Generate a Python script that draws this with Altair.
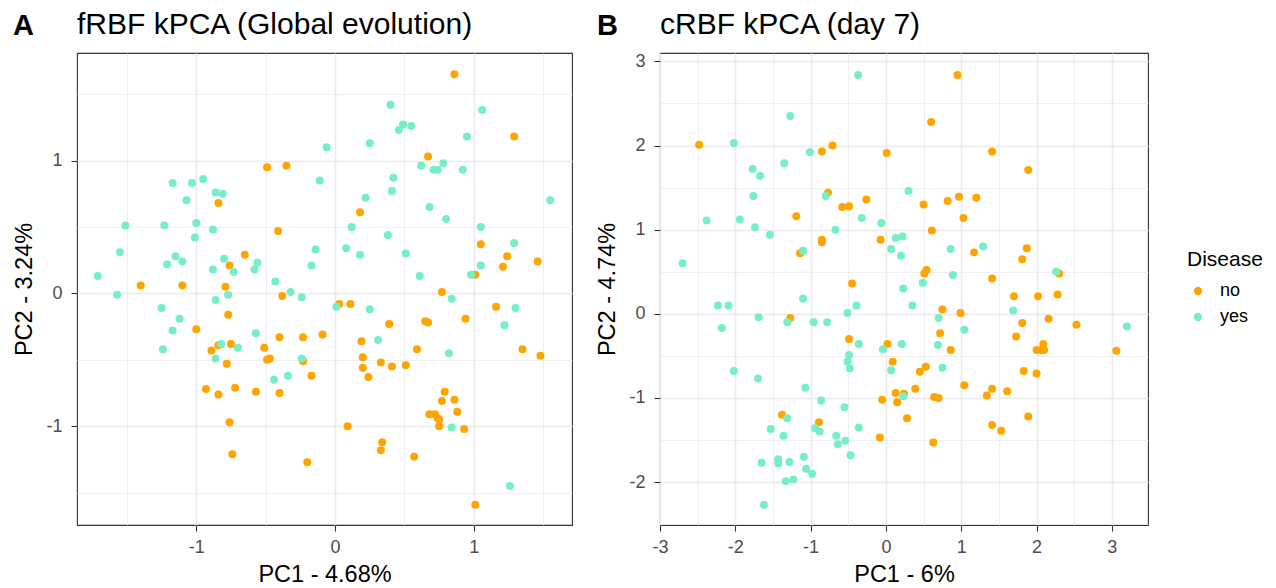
import altair as alt
import pandas as pd

FONT = "Liberation Sans"

# ---------------- Panel A: fRBF kPCA (Global evolution) ----------------
a_no_x = [-0.49, -0.35, -0.84, -0.41, -0.65, -0.76, -1.40, -1.10, -0.79, 0.86, 1.29, 0.67, 0.18, 1.05,
          1.24, 1.21, 1.46, 1.01, -0.38, -0.77, -1.00, -0.40, -0.23, -0.09, -0.75, -0.84, -0.89, -0.51,
          -0.49, -0.47, -0.23, -0.78, -0.17, -0.93, -0.84, -0.72, -0.57, -0.40, -0.76, -0.74, -0.20, 0.77,
          0.03, 0.11, 1.16, 0.94, 0.39, 0.65, 0.67, 0.19, 0.59, 1.35, 1.48, 0.20, 0.33, 0.41, 0.51, 0.20,
          0.24, 0.79, 0.77, 0.86, 0.88, 0.68, 0.72, 0.74, 0.75, 0.75, 0.93, 0.09, 0.34, 0.33, 0.57, 1.01]
a_no_y = [0.95, 0.96, 0.68, 0.47, 0.29, 0.21, 0.06, 0.06, 0.05, 1.65, 1.18, 1.03, 0.61, 0.37,
          0.28, 0.20, 0.24, 0.14, -0.02, -0.16, -0.27, -0.33, -0.33, -0.31, -0.38, -0.39, -0.43, -0.41,
          -0.50, -0.49, -0.51, -0.53, -0.62, -0.72, -0.76, -0.71, -0.74, -0.75, -0.97, -1.21, -1.27, 0.01,
          -0.08, -0.08, -0.10, -0.19, -0.23, -0.21, -0.22, -0.36, -0.42, -0.42, -0.47, -0.48, -0.52, -0.55,
          -0.54, -0.56, -0.63, -0.74, -0.81, -0.80, -0.89, -0.91, -0.91, -0.94, -0.95, -1.00, -1.02, -1.00,
          -1.12, -1.18, -1.23, -1.59]
a_yes_x = [-0.06, -0.11, -1.17, -1.03, -0.95, -0.86, -0.81, -1.07, -1.51, -1.23, -1.00, -0.88, -1.01, -1.55,
           -0.14, -0.17, -1.15, -1.10, -1.21, -0.80, -0.88, -0.73, -0.56, -0.58, -0.43, -1.71, 0.40, 1.06,
           0.49, 0.46, 0.55, 0.95, 0.25, 0.62, 0.71, 0.74, 0.78, 0.92, 0.42, 0.41, 0.22, 1.55, 0.68, 0.80,
           0.12, 1.05, 0.38, 0.08, 0.18, 0.51, 1.29, 1.05, 0.61, 0.98, -1.57, -1.25, -1.12, -1.17, -1.24,
           -0.86, -0.77, -0.32, -0.24, -0.57, -0.82, -0.70, -0.86, -0.24, -0.44, -0.34, 0.84, 0.01, 0.25,
           1.30, 1.22, 0.31, 0.82, 0.84, 1.26]
a_yes_y = [1.10, 0.85, 0.83, 0.83, 0.86, 0.76, 0.75, 0.70, 0.51, 0.51, 0.53, 0.48, 0.42, 0.31,
           0.33, 0.21, 0.28, 0.24, 0.22, 0.26, 0.18, 0.16, 0.23, 0.18, 0.09, 0.13, 1.42, 1.38,
           1.27, 1.23, 1.26, 1.18, 1.13, 0.96, 0.93, 0.93, 0.98, 0.93, 0.87, 0.77, 0.72, 0.70, 0.65, 0.56,
           0.50, 0.50, 0.44, 0.34, 0.29, 0.30, 0.38, 0.21, 0.13, 0.14, -0.01, -0.11, -0.19, -0.28, -0.42,
           -0.05, -0.01, 0.01, -0.03, -0.30, -0.38, -0.41, -0.49, -0.49, -0.65, -0.62, -0.04, -0.10, -0.12,
           -0.11, -0.24, -0.35, -0.45, -1.01, -1.45]

# ---------------- Panel B: cRBF kPCA (day 7) ----------------
b_no_x = [-2.48, -0.85, -0.71, 0.01, -0.77, -0.26, -0.58, -0.49, -1.19, -0.85, -0.85, -1.14, -0.07, -0.45,
          0.95, 0.60, 1.41, 1.89, 0.50, 0.82, 0.97, 1.20, 1.03, 0.61, 1.17, 1.87, 1.81, 0.54, 0.51, 1.41,
          2.30, -1.27, -0.49, 0.02, 0.09, 0.13, -0.05, 0.15, -1.38, -0.89, -0.08, 0.24, 1.70, 2.02, 2.28,
          0.75, 0.99, 1.81, 2.16, 2.53, 0.72, 1.73, 2.09, 2.00, 2.06, 2.10, 0.86, 3.06, 0.53, 0.45, 1.83,
          2.00, 0.39, 1.04, 1.41, 1.34, 1.61, 0.64, 0.70, 0.28, 1.89, 1.41, 1.53, 0.63]
b_no_y = [2.01, 1.93, 2.00, 1.91, 1.44, 1.36, 1.27, 1.28, 1.16, 0.88, 0.85, 0.72, 0.88, 0.36,
          2.84, 2.28, 1.93, 1.71, 1.30, 1.34, 1.39, 1.38, 1.14, 0.99, 0.73, 0.78, 0.65, 0.52, 0.48, 0.42,
          0.48, -0.05, -0.30, -0.36, -0.57, -0.94, -1.02, -1.05, -1.20, -1.29, -1.47, -0.95, 0.21, 0.21, 0.23,
          0.05, 0.01, -0.11, -0.06, -0.13, -0.23, -0.27, -0.36, -0.43, -0.43, -0.43, -0.43, -0.44, -0.63, -0.69,
          -0.68, -0.71, -0.89, -0.85, -0.89, -0.97, -0.92, -0.99, -1.00, -1.24, -1.22, -1.32, -1.39, -1.53]
b_yes_x = [-0.37, -1.27, -2.02, -1.01, -1.35, -1.77, -1.67, -1.76, -0.80, -2.38, -1.94, -1.74, -1.54, -0.67,
           -0.32, -0.06, 0.30, 0.13, 0.22, 0.07, 0.20, -1.10, -2.70, 0.86, 1.29, 0.89, 2.26, 0.49, 0.23,
           -1.10, -2.23, -2.09, -0.39, -0.51, -1.69, -1.31, -0.96, -0.78, -2.18, -0.36, -0.04, 0.21, -0.49,
           -0.51, -0.48, 0.07, -2.02, -1.70, -1.07, -0.86, -0.55, 0.23, -1.31, -1.53, -1.36, -0.94, -0.88,
           -0.36, -0.66, -0.54, -0.64, -0.47, -1.09, -1.65, -1.43, -1.43, -1.28, -1.06, -0.98, -1.33, -1.23,
           -1.62, 0.35, 1.69, 0.70, 1.04, 3.20, 0.69, 0.75]
b_yes_y = [2.84, 2.35, 2.03, 1.92, 1.79, 1.72, 1.64, 1.40, 1.40, 1.11, 1.12, 1.03, 0.94, 1.00,
           1.14, 1.08, 1.46, 0.90, 0.92, 0.77, 0.69, 0.75, 0.60, 0.77, 0.80, 0.46, 0.50, 0.37, 0.30,
           0.18, 0.10, 0.10, 0.10, 0.01, -0.04, -0.10, -0.10, -0.10, -0.17, -0.36, -0.42, -0.36, -0.49,
           -0.57, -0.65, -0.67, -0.68, -0.77, -0.88, -1.03, -1.11, -0.98, -1.24, -1.37, -1.45, -1.36, -1.40,
           -1.35, -1.45, -1.51, -1.55, -1.68, -1.70, -1.77, -1.73, -1.78, -1.76, -1.84, -1.90, -1.99, -1.97,
           -2.27, 0.10, 0.04, -0.05, -0.19, -0.15, -0.37, -0.64]

groups = ["no", "yes"]
group_colors = ["#FFA500", "#76EEC6"]

a_ticks_x = [-1.5, -1, -0.5, 0, 0.5, 1, 1.5]
a_ticks_y = [-1.5, -1, -0.5, 0, 0.5, 1, 1.5]
b_ticks_x = [-3, -2.5, -2, -1.5, -1, -0.5, 0, 0.5, 1, 1.5, 2, 2.5, 3]
b_ticks_y = [-2.5, -2, -1.5, -1, -0.5, 0, 0.5, 1, 1.5, 2, 2.5, 3]


def make_df(no_x, no_y, yes_x, yes_y):
    return pd.DataFrame({
        "PC1": no_x + yes_x,
        "PC2": no_y + yes_y,
        "Disease": ["no"] * len(no_x) + ["yes"] * len(yes_x),
    })


MINOR = "datum.value % 1 !== 0"


def make_axis(title, values, label_pad, title_pad):
    return alt.Axis(
        title=title, values=values,
        labelExpr="datum.value % 1 === 0 ? toString(datum.value) : ''",
        labelOverlap=False, labelFlush=False,
        grid=True, gridColor="#EBEBEB",
        gridWidth={"condition": {"test": MINOR, "value": 0.8}, "value": 1.6},
        tickOpacity={"condition": {"test": MINOR, "value": 0}, "value": 1},
        domain=False, tickColor="#333333", tickSize=6, tickWidth=1.1,
        labelColor="#4D4D4D", labelFontSize=18, labelPadding=label_pad, labelFont=FONT,
        titleFontSize=23.5, titleColor="#000000", titleFontWeight="normal", titleFont=FONT,
        titlePadding=title_pad,
    )


color = alt.Color(
    "Disease:N",
    scale=alt.Scale(domain=groups, range=group_colors),
    legend=alt.Legend(
        title="Disease", orient="none", legendX=1110, legendY=196,
        titleFontSize=21, titleFontWeight="normal", titleColor="#000000", titleFont=FONT,
        labelFontSize=18, labelColor="#000000", labelFont=FONT, labelOffset=13,
        symbolType="circle", symbolSize=70, symbolStrokeWidth=0, symbolOffset=2,
        rowPadding=8, titlePadding=12, padding=0,
    ),
)


def panel(df, tag, title, xt, yt, xdom, ydom, xvals, yvals, w, h, tag_x):
    pts = alt.Chart(df).mark_circle(size=64, opacity=1).encode(
        x=alt.X("PC1:Q", scale=alt.Scale(domain=xdom, nice=False, zero=False),
                axis=make_axis(xt, xvals, 7, 6)),
        y=alt.Y("PC2:Q", scale=alt.Scale(domain=ydom, nice=False, zero=False),
                axis=make_axis(yt, yvals, 9, 9)),
        color=color,
    )
    lab = alt.Chart(pd.DataFrame({"t": [tag]})).mark_text(
        align="left", baseline="alphabetic", fontSize=29, fontWeight="bold", font=FONT, color="#000000"
    ).encode(x=alt.value(tag_x), y=alt.value(-18), text="t:N")
    ttl = alt.Chart(pd.DataFrame({"t": [title]})).mark_text(
        align="left", baseline="alphabetic", fontSize=30, fontWeight="normal", font=FONT, color="#000000"
    ).encode(x=alt.value(0), y=alt.value(-19), text="t:N")
    return alt.layer(pts, lab, ttl).properties(width=w, height=h)


pa = panel(make_df(a_no_x, a_no_y, a_yes_x, a_yes_y), "A", "fRBF kPCA (Global evolution)",
           "PC1 - 4.68%", "PC2 - 3.24%", [-1.859, 1.707], [-1.743, 1.809], a_ticks_x, a_ticks_y, 495, 472, -64)
pb = panel(make_df(b_no_x, b_no_y, b_yes_x, b_yes_y), "B", "cRBF kPCA (day 7)",
           "PC1 - 6%", "PC2 - 4.74%", [-3.0, 3.48], [-2.51, 3.10], b_ticks_x, b_ticks_y, 488, 472, -63)

chart = alt.hconcat(pa, pb, spacing=22).properties(
    padding={"left": 4, "top": 1, "right": 5, "bottom": 0}
).configure(font=FONT).configure_view(stroke="#333333", strokeWidth=1.1)

chart.save("out.html", embed_options={"renderer": "svg", "actions": False})
